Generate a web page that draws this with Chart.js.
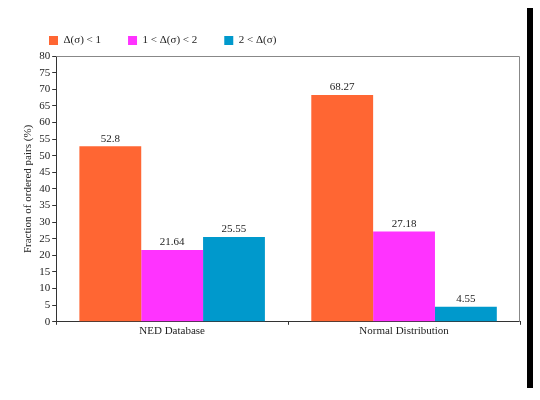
<!DOCTYPE html>
<html>
<head>
<meta charset="utf-8">
<script src="https://cdn.jsdelivr.net/npm/chart.js@4"></script>
<style>
  body { margin:0; background:#fff; }
  #wrap { position:relative; width:540px; height:400px; }
  #edge { position:absolute; left:527px; top:8px; width:6px; height:380px; background:#000; }
</style>
</head>
<body>
<div id="wrap">
  <canvas id="rel1"></canvas>
  <div id="edge"></div>
</div>
<script>
var groups = ['NED Database', 'Normal Distribution'];
var series_names = ['\u0394(\u03c3) < 1', '1 < \u0394(\u03c3) < 2', '2 < \u0394(\u03c3)'];
var low_list = [52.8, 68.27];
var mid_list = [21.64, 27.18];
var high_list = [25.55, 4.55];
var series_colors = ['#FF6633', '#FF33FF', '#0099CC'];

var serif = "'Liberation Serif', 'DejaVu Serif', serif";

// grey frame on top and right of the plot
var framePlugin = {
  id: 'frame',
  beforeDatasetsDraw: function(chart) {
    var a = chart.chartArea, ctx = chart.ctx;
    ctx.save();
    ctx.strokeStyle = '#888';
    ctx.lineWidth = 1;
    ctx.beginPath();
    ctx.moveTo(a.left, a.top + 0.5);
    ctx.lineTo(a.right - 0.5, a.top + 0.5);
    ctx.lineTo(a.right - 0.5, a.bottom);
    ctx.stroke();
    ctx.restore();
  }
};

// value labels above bars
var valuePlugin = {
  id: 'values',
  afterDatasetsDraw: function(chart) {
    var ctx = chart.ctx;
    ctx.save();
    ctx.font = '11px ' + serif;
    ctx.fillStyle = '#222';
    ctx.textAlign = 'center';
    ctx.textBaseline = 'bottom';
    chart.data.datasets.forEach(function(ds, i) {
      chart.getDatasetMeta(i).data.forEach(function(bar, j) {
        ctx.fillText(ds.data[j], bar.x, bar.y - 2);
      });
    });
    ctx.restore();
  }
};

var rel1 = new Chart(document.getElementById("rel1"), {
  type:'bar',
  data: {
    labels:groups,
    datasets:[{
      label:series_names[0],
      data:low_list,
      backgroundColor:series_colors[0]
    },{
      label:series_names[1],
      data:mid_list,
      backgroundColor:series_colors[1]
    },{
      label:series_names[2],
      data:high_list,
      backgroundColor:series_colors[2]
    }]
  },
  options: {
    responsive:true,
    maintainAspectRatio:false,
    animation:false,
    layout: { padding: { left:22, right:20, top:8, bottom:62 } },
    datasets: { bar: { categoryPercentage:0.8, barPercentage:1.0 } },
    plugins: {
      legend: {
        position:'top',
        align:'start',
        labels: {
          boxWidth:9,
          boxHeight:9,
          padding:27,
          color:'#222',
          font:{ family:serif, size:11 }
        }
      },
      tooltip: { enabled:false }
    },
    scales: {
      x: {
        grid: { display:true, drawOnChartArea:false, tickLength:3, color:'#333' },
        border: { color:'#333' },
        ticks: { color:'#222', font:{ family:serif, size:11 }, padding:0 }
      },
      y: {
        min:0,
        max:80,
        ticks: { stepSize:5, color:'#222', font:{ family:serif, size:11 }, padding:2 },
        grid: { display:true, drawOnChartArea:false, tickLength:4, color:'#333' },
        border: { color:'#333' },
        title: {
          display:true,
          text:'Fraction of ordered pairs (%)',
          color:'#222',
          font:{ family:serif, size:11 },
          padding:{ top:0, bottom:2 }
        }
      }
    }
  },
  plugins:[framePlugin, valuePlugin]
});
</script>
</body>
</html>
